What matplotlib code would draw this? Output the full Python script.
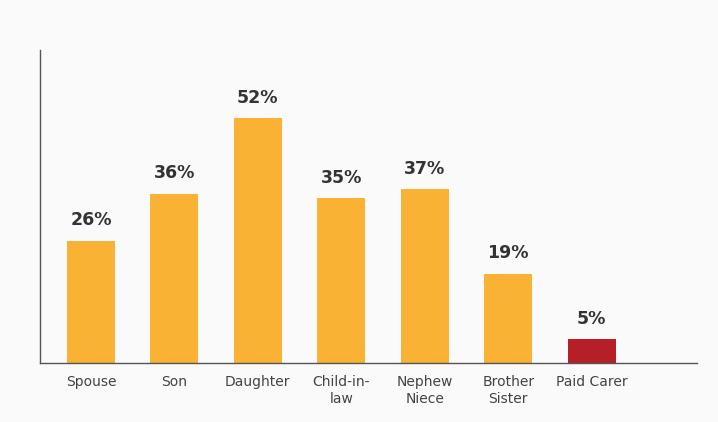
import numpy as np
import matplotlib.pyplot as plt

# Data
categories = ['Spouse', 'Son', 'Daughter', 'Child-in-\nlaw', 'Nephew\nNiece', 'Brother\nSister', 'Paid Carer']
values = [26, 36, 52, 35, 37, 19, 5]
value_labels = ['26%', '36%', '52%', '35%', '37%', '19%', '5%']
bar_colors = ['#F9B233'] * 6 + ['#B71F28']

bg = '#FAFAFA'
fig = plt.figure(figsize=(7.18, 4.22), dpi=100, facecolor=bg)
ax = fig.add_axes([0.0557, 0.14, 0.915, 0.7415])
ax.set_facecolor(bg)

x = np.arange(len(categories))
bars = ax.bar(x, values, width=0.575, color=bar_colors)

for xi, v, lab in zip(x, values, value_labels):
    ax.annotate(lab, (xi, v), xytext=(0, 8), textcoords='offset points',
                ha='center', va='bottom', fontsize=12.5, fontweight='bold',
                color='#333333')

ax.set_xlim(-0.61, 7.26)
ax.set_ylim(0, 66.5)
ax.set_xticks(x)
ax.set_xticklabels(categories, fontsize=10, color='#444444', linespacing=1.25)
ax.tick_params(axis='x', length=0, pad=9)
ax.set_yticks([])

for s in ['top', 'right']:
    ax.spines[s].set_visible(False)
for s in ['left', 'bottom']:
    ax.spines[s].set_color('#555555')
    ax.spines[s].set_linewidth(1)

fig.savefig('out.png', dpi=100, facecolor=bg)
